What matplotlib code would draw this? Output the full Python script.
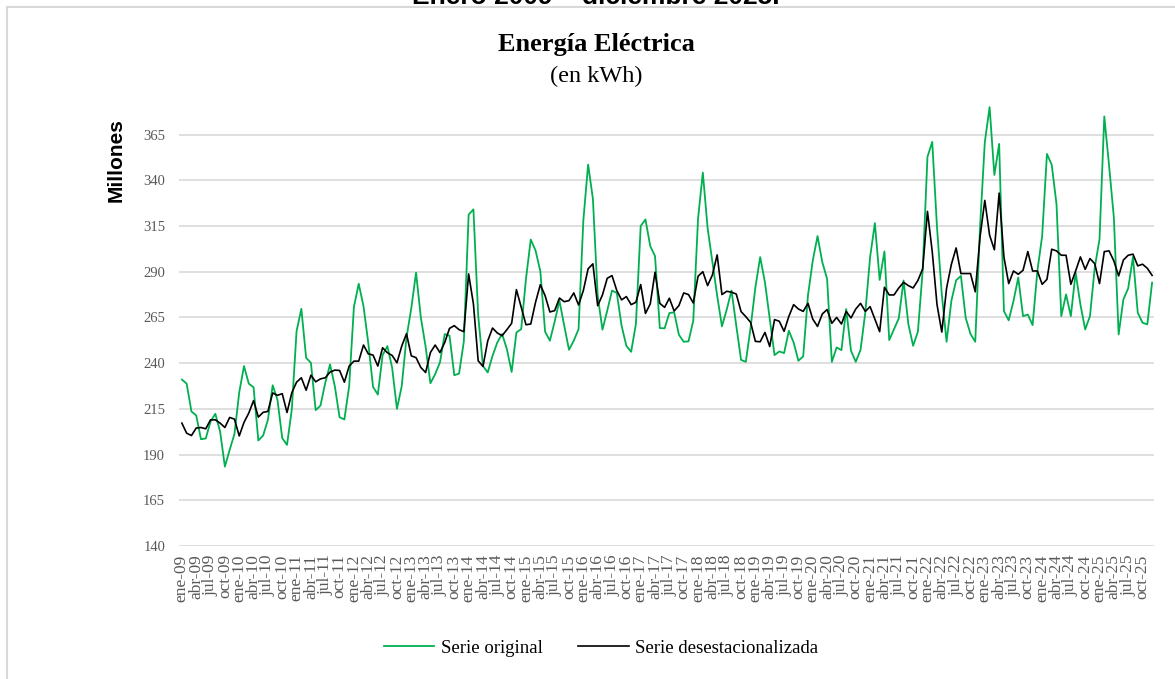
import matplotlib
matplotlib.use("Agg")
import matplotlib.pyplot as plt
from matplotlib.lines import Line2D

# -----------------------------
# Data (millions of kWh), monthly ene-09 .. dic-25
# -----------------------------
serie_original = [
    231.0, 228.8, 213.6, 211.4, 198.4, 198.8, 208.1, 212.3, 202.6, 183.4, 192.6, 201.2,
    224.0, 238.4, 228.8, 226.8, 197.7, 200.4, 209.0, 227.9, 220.0, 199.0, 195.3, 214.6,
    257.5, 269.7, 242.9, 240.2, 214.3, 216.8, 229.2, 239.3, 227.4, 210.4, 209.2, 227.4,
    270.8, 283.4, 271.2, 251.1, 227.0, 222.8, 244.4, 249.3, 237.4, 215.0, 227.4, 254.0,
    270.0, 289.5, 265.0, 249.0, 229.0, 234.0, 240.4, 255.9, 255.0, 233.4, 234.3, 251.9,
    321.2, 324.1, 266.0, 238.5, 234.9, 244.0, 251.3, 255.9, 247.7, 235.2, 256.8, 258.6,
    286.1, 307.6, 301.6, 290.3, 257.2, 252.3, 262.7, 274.2, 260.5, 247.3, 252.3, 258.6,
    318.0, 348.6, 329.9, 276.9, 258.3, 268.7, 279.7, 278.4, 260.5, 249.5, 246.2, 261.4,
    315.0, 318.6, 304.0, 298.5, 259.2, 259.0, 267.4, 267.8, 255.5, 251.7, 251.9, 263.2,
    319.0, 344.2, 313.9, 295.2, 276.9, 260.1, 269.3, 279.7, 260.5, 241.8, 240.7, 259.6,
    281.5, 298.0, 284.2, 264.1, 244.4, 246.4, 245.5, 257.7, 251.3, 241.3, 243.7, 277.0,
    296.0, 309.5, 295.2, 286.1, 240.7, 248.6, 247.1, 269.6, 246.8, 240.7, 247.3, 267.8,
    298.0, 316.6, 285.5, 301.1, 252.6, 258.6, 264.5, 285.2, 261.4, 249.5, 257.2, 290.6,
    352.8, 361.0, 314.2, 277.6, 251.7, 274.0, 285.3, 287.7, 264.8, 256.0, 251.7, 314.2,
    360.8, 380.0, 342.9, 359.9, 268.5, 263.4, 274.0, 286.8, 265.7, 266.6, 260.8, 290.4,
    309.6, 354.4, 348.5, 327.0, 265.7, 277.6, 265.7, 289.5, 272.1, 258.4, 265.7, 292.2,
    307.8, 374.9, 348.0, 319.7, 255.7, 274.9, 280.9, 298.1, 267.6, 262.1, 261.2, 284.0,
]

serie_desest = [
    207.2, 201.7, 200.4, 204.5, 204.8, 204.1, 209.0, 209.0, 207.2, 204.8, 210.3, 209.4,
    200.2, 207.6, 212.7, 219.5, 210.5, 213.1, 213.6, 223.7, 222.4, 223.3, 213.0, 223.8,
    229.6, 232.0, 225.2, 233.4, 229.8, 231.4, 232.0, 235.1, 236.2, 236.0, 229.6, 238.4,
    241.1, 241.1, 249.9, 245.1, 244.4, 238.4, 248.4, 245.7, 244.2, 240.2, 249.3, 256.1,
    244.0, 243.0, 237.6, 234.9, 245.8, 249.9, 245.8, 251.3, 259.0, 260.5, 258.3, 257.2,
    288.8, 272.4, 241.3, 238.2, 252.2, 259.2, 256.5, 255.0, 258.3, 261.8, 280.2, 270.5,
    261.0, 261.4, 273.3, 282.9, 276.9, 268.0, 268.7, 275.6, 273.6, 274.2, 278.4, 271.8,
    279.7, 291.6, 294.3, 271.4, 277.3, 286.4, 287.9, 279.7, 274.6, 276.4, 272.0, 273.3,
    283.0, 267.2, 272.4, 289.7, 272.7, 270.5, 275.5, 268.5, 271.5, 278.4, 277.5, 272.9,
    287.5, 290.0, 282.4, 288.2, 299.2, 277.5, 279.3, 278.8, 277.8, 268.2, 265.4, 262.3,
    251.9, 251.7, 256.8, 249.1, 263.8, 262.9, 257.4, 265.6, 272.0, 269.6, 268.3, 272.7,
    264.1, 260.1, 266.9, 269.3, 261.8, 265.0, 261.4, 268.3, 264.7, 269.6, 272.7, 268.3,
    270.9, 264.1, 257.2, 281.5, 277.3, 277.3, 281.1, 284.2, 282.4, 281.1, 285.2, 291.6,
    323.0, 301.0, 272.0, 257.0, 281.0, 294.0, 303.0, 289.0, 289.0, 289.0, 279.0, 309.0,
    329.0, 310.0, 302.0, 333.0, 298.0, 283.5, 290.4, 288.6, 290.8, 301.0, 290.4, 290.4,
    283.1, 285.8, 302.3, 301.4, 299.0, 299.0, 283.1, 290.4, 298.1, 291.3, 297.2, 294.4,
    283.5, 301.0, 301.4, 295.9, 287.7, 296.4, 299.0, 299.6, 293.2, 294.1, 291.9, 288.0,
]

meses = ["ene", "feb", "mar", "abr", "may", "jun", "jul", "ago", "sep", "oct", "nov", "dic"]
anios = list(range(2009, 2026))
fechas = [f"{m}-{str(a)[2:]}" for a in anios for m in meses]

y_ticks = [140, 165, 190, 215, 240, 265, 290, 315, 340, 365]

# -----------------------------
# Figure
# -----------------------------
W, H = 1175, 679
fig = plt.figure(figsize=(W / 100, H / 100), dpi=100)
fig.patch.set_facecolor("white")

ax = fig.add_axes([179 / W, 1 - 546 / H, (1154 - 179) / W, (546 - 98) / H])

x = list(range(len(fechas)))
l1, = ax.plot(x, serie_original, color="#00B050", lw=1.3, label="Serie original")
l2, = ax.plot(x, serie_desest, color="black", lw=1.2, label="Serie desestacionalizada")

ax.set_xlim(-0.6, len(fechas) - 0.6)
ax.set_ylim(140, 385)
ax.set_yticks(y_ticks)
ax.set_yticklabels([str(v) for v in y_ticks], family="Liberation Serif",
                   fontsize=10.5, color="#595959")
ax.set_xticks(x[::3])
ax.set_xticklabels(fechas[::3], rotation=90, family="Liberation Serif",
                   fontsize=12.5, color="#595959")
ax.tick_params(axis="both", length=0)
ax.tick_params(axis="y", pad=10)
ax.tick_params(axis="x", pad=6)

ax.grid(axis="y", color="#D9D9D9", lw=1.2)
ax.set_axisbelow(True)
for s in ax.spines.values():
    s.set_visible(False)

# -----------------------------
# Texts
# -----------------------------
fig.text(596 / W, 1 - 4 / H, "Enero 2009 – diciembre 2025.", ha="center", va="baseline",
         family="Liberation Sans", fontweight="bold", fontsize=19)
fig.text(596 / W, 1 - 45 / H, "Energía Eléctrica", ha="center", va="center",
         family="Liberation Serif", fontweight="bold", fontsize=19)
fig.text(596 / W, 1 - 76 / H, "(en kWh)", ha="center", va="center",
         family="Liberation Serif", fontsize=17.5)
fig.text(116 / W, 1 - 160 / H, "Millones", ha="center", va="center", rotation=90,
         family="Liberation Sans", fontweight="bold", fontsize=15)

# border of the chart box
fig.add_artist(Line2D([7 / W, 7 / W], [0, 1 - 7 / H], color="#D9D9D9", lw=1.5))
fig.add_artist(Line2D([7 / W, 1], [1 - 7 / H, 1 - 7 / H], color="#D9D9D9", lw=1.5))

fig.legend(handles=[l1, l2], loc="center", bbox_to_anchor=(601 / W, 1 - 648 / H),
           ncol=2, frameon=False, handlelength=2.7, handletextpad=0.35,
           columnspacing=1.9, prop={"family": "Liberation Serif", "size": 13.5})

fig.savefig("out.png", dpi=100)
